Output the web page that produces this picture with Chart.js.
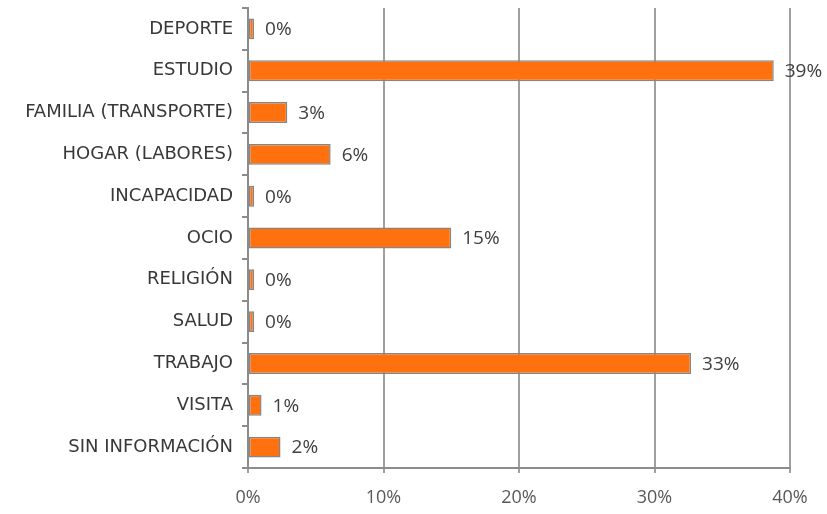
<!DOCTYPE html>
<html>
<head>
<meta charset="utf-8">
<script src="https://cdn.jsdelivr.net/npm/chart.js@4"></script>
<style>
  html, body { margin: 0; padding: 0; background: #fff; }
  #wrap { width: 827px; height: 514px; }
</style>
</head>
<body>
<div id="wrap"><canvas id="motivoChart" width="827" height="514"></canvas></div>
<script>
const categories = ['DEPORTE', 'ESTUDIO', 'FAMILIA (TRANSPORTE)', 'HOGAR (LABORES)', 'INCAPACIDAD', 'OCIO',
    'RELIGIÓN', 'SALUD', 'TRABAJO', 'VISITA', 'SIN INFORMACIÓN'];
const percentages = [0.45, 38.8, 2.9, 6.1, 0.45, 15.0, 0.45, 0.45, 32.7, 1.0, 2.4];
const xTicks = [0, 10, 20, 30, 40];

// draws the "39%" style labels next to each bar
const barValueLabels = {
    id: 'barValueLabels',
    afterDatasetsDraw(chart) {
        const ctx = chart.ctx;
        const meta = chart.getDatasetMeta(0);
        ctx.save();
        ctx.font = '19px "Open Sans"';
        ctx.fillStyle = '#404040';
        ctx.textAlign = 'left';
        ctx.textBaseline = 'middle';
        meta.data.forEach(function (bar, i) {
            ctx.fillText(Math.round(percentages[i]) + '%', bar.x + 11, bar.y + 1);
        });
        ctx.restore();
    }
};

const ctx = document.getElementById('motivoChart').getContext('2d');

new Chart(ctx, {
    type: 'bar',
    data: {
        labels: categories,
        datasets: [{
            data: percentages,
            backgroundColor: '#FF710F',
            borderColor: '#858585',
            borderWidth: 1.5,
            borderSkipped: false,
            categoryPercentage: 1,
            barPercentage: 0.5
        }]
    },
    plugins: [barValueLabels],
    options: {
        indexAxis: 'y',
        responsive: false,
        animation: false,
        layout: {
            padding: { left: 0, top: 8, right: 37, bottom: 0 }
        },
        plugins: {
            legend: { display: false },
            tooltip: { enabled: false }
        },
        scales: {
            x: {
                min: 0,
                max: 40,
                afterBuildTicks: function (scale) {
                    scale.ticks = xTicks.map(v => ({ value: v }));
                },
                afterFit: function (scale) {
                    scale.height = 46;
                },
                ticks: {
                    callback: v => v + '%',
                    color: '#595959',
                    font: { family: 'Open Sans', size: 18 },
                    padding: 14
                },
                grid: {
                    color: '#A0A0A0',
                    lineWidth: 2,
                    tickLength: 5
                },
                border: { color: '#8C8C8C', width: 2 }
            },
            y: {
                afterFit: function (scale) {
                    scale.width = 248;
                    scale.paddingTop = 0;
                    scale.paddingBottom = 0;
                },
                ticks: {
                    color: '#383838',
                    font: { family: 'DejaVu Sans', size: 18 },
                    padding: 9
                },
                grid: {
                    drawOnChartArea: false,
                    color: '#8C8C8C',
                    lineWidth: 2,
                    tickLength: 6
                },
                border: { color: '#8C8C8C', width: 2 }
            }
        }
    }
});
</script>
</body>
</html>
